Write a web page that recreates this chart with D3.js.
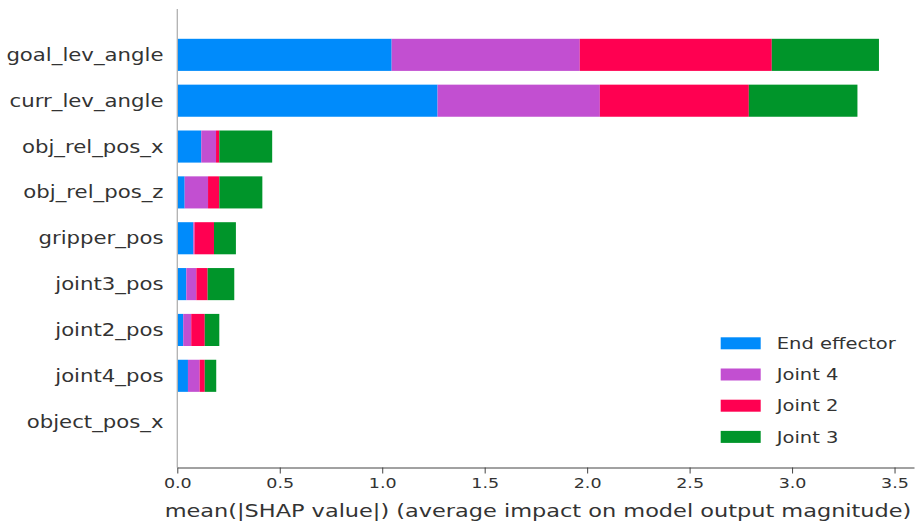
<!DOCTYPE html>
<html>
<head>
<meta charset="utf-8">
<script src="https://cdn.jsdelivr.net/npm/d3@7"></script>
<style>
  html, body { margin: 0; padding: 0; background: #ffffff; }
  svg { display: block; }
  text { font-family: "DejaVu Sans", sans-serif; fill: #333333; }
</style>
</head>
<body>
<svg id="chart" width="915" height="528"></svg>
<script>
// Features, top to bottom
const features = ["goal_lev_angle", "curr_lev_angle", "obj_rel_pos_x", "obj_rel_pos_z",
  "gripper_pos", "joint3_pos", "joint2_pos", "joint4_pos", "object_pos_x"];

// Output groups, in stacking order
const seriesNames = ["End effector", "Joint 4", "Joint 2", "Joint 3"];
const seriesColors = ["#008bfb", "#c24fd1", "#ff0051", "#00952a"];

// mean(|SHAP value|) per feature, one array per output group
const endEffector = [1.046, 1.270, 0.117, 0.036, 0.078, 0.044, 0.029, 0.052, 0];
const joint4      = [0.918, 0.792, 0.072, 0.114, 0.006, 0.049, 0.039, 0.057, 0];
const joint2      = [0.937, 0.727, 0.016, 0.055, 0.095, 0.055, 0.066, 0.025, 0];
const joint3      = [0.523, 0.530, 0.258, 0.210, 0.107, 0.130, 0.071, 0.056, 0];

const xTicks = [0, 0.5, 1.0, 1.5, 2.0, 2.5, 3.0, 3.5];
const xTickLabels = ["0.0", "0.5", "1.0", "1.5", "2.0", "2.5", "3.0", "3.5"];
const xLabel = "mean(|SHAP value|) (average impact on model output magnitude)";

const svg = d3.select("#chart");

const x = d3.scaleLinear().domain([0, 3.595]).range([177.3, 914]);
const y = d3.scaleLinear().domain([-1, features.length]).range([9, 467.5]);
const barHeight = y(0.7) - y(0);

// Build stacked table
const rows = features.map((f, i) => ({
  feature: f,
  "End effector": endEffector[i],
  "Joint 4": joint4[i],
  "Joint 2": joint2[i],
  "Joint 3": joint3[i]
}));
const stacked = d3.stack().keys(seriesNames)(rows);

const color = d3.scaleOrdinal().domain(seriesNames).range(seriesColors);

// Bars
svg.append("g")
  .selectAll("g")
  .data(stacked)
  .join("g")
  .attr("fill", d => color(d.key))
  .selectAll("rect")
  .data(d => d.map((v, i) => ({ v, i })))
  .join("rect")
  .attr("x", d => x(d.v[0]))
  .attr("width", d => Math.max(0, x(d.v[1]) - x(d.v[0])))
  .attr("y", d => y(d.i) - barHeight / 2)
  .attr("height", barHeight);

// Left spine
svg.append("line")
  .attr("x1", x(0)).attr("x2", x(0))
  .attr("y1", y(-1)).attr("y2", y(features.length))
  .attr("stroke", "#b0b0b0")
  .attr("stroke-width", 1.3);

// Bottom axis
const xAxis = d3.axisBottom(x)
  .tickValues(xTicks)
  .tickFormat((d, i) => xTickLabels[i])
  .tickSize(6)
  .tickSizeOuter(0);

const gx = svg.append("g")
  .attr("transform", `translate(0,${y(features.length)})`)
  .call(xAxis);
gx.select(".domain").attr("stroke", "#444444").attr("stroke-width", 1);
gx.selectAll(".tick line").attr("stroke", "#444444").attr("stroke-width", 1);
gx.selectAll(".tick text")
  .attr("y", 0).attr("dy", 0)
  .attr("transform", "translate(0,20.8) scale(1.25,1)")
  .style("font-size", "14px")
  .style("font-family", "'DejaVu Sans', sans-serif")
  .attr("fill", "#444444");

// Axis title
svg.append("text")
  .attr("transform", "translate(538,516.5) scale(1.32,1)")
  .attr("text-anchor", "middle")
  .style("font-size", "17px")
  .text(xLabel);

// Feature labels
svg.append("g")
  .selectAll("text")
  .data(features)
  .join("text")
  .attr("transform", (d, i) => `translate(163.5,${y(i) + 6}) scale(1.25,1)`)
  .attr("text-anchor", "end")
  .style("font-size", "17px")
  .text(d => d);

// Legend
const legend = svg.append("g");
const legendRows = legend.selectAll("g")
  .data(seriesNames)
  .join("g")
  .attr("transform", (d, i) => `translate(720.7,${343.3 + i * 31.2})`);
legendRows.append("rect")
  .attr("x", 0).attr("y", -6)
  .attr("width", 40).attr("height", 12)
  .attr("fill", d => color(d));
legendRows.append("text")
  .attr("transform", "translate(56,5.6) scale(1.26,1)")
  .style("font-size", "15.5px")
  .text(d => d);
</script>
</body>
</html>
